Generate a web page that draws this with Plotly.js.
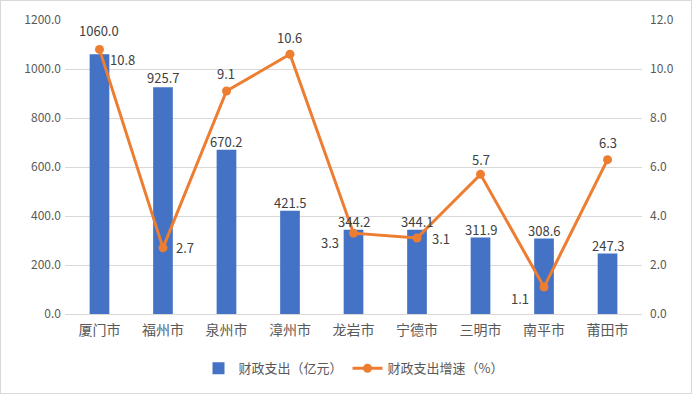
<!DOCTYPE html>
<html><head><meta charset="utf-8">
<script src="https://cdn.plot.ly/plotly-3.0.1.min.js"></script>
<style>html,body{margin:0;padding:0;background:#fff}#w{position:relative;width:692px;height:394px}#c{position:absolute;left:0;top:0;width:692px;height:394px}#b{position:absolute;left:0;top:0;width:692px;height:394px;box-sizing:border-box;border:1px solid #D9D9D9;pointer-events:none}</style>
</head><body><div id="w"><div id="c"></div><div id="b"></div></div>
<script>
const cities = ['厦门市','福州市','泉州市','漳州市','龙岩市','宁德市','三明市','南平市','莆田市'];
const spending = [1060.0, 925.7, 670.2, 421.5, 344.2, 344.1, 311.9, 308.6, 247.3];
const growth = [10.8, 2.7, 9.1, 10.6, 3.3, 3.1, 5.7, 1.1, 6.3];
const leftTicks = [0,200,400,600,800,1000,1200];
const rightTicks = [0,2,4,6,8,10,12];

const font = '"Noto Sans CJK SC", "Microsoft YaHei", sans-serif';
// label offsets in pixels (styling only)
const barLabelDy = [24, 10, 8, 8, 8, 8, 8, 8, 8];
const lineLabelDx = [23, 22, 0, 0, -24, 24, 0, -24, 0];
const lineLabelDy = [-10, 0, 18, 17, -9, 0, 15, -11, 17];

const barTrace = {
  type:'bar', x:cities, y:spending, name:'财政支出（亿元）',
  marker:{color:'#4472C4'}, width:0.31, hoverinfo:'x+y'
};
const lineTrace = {
  type:'scatter', mode:'lines+markers', x:cities, y:growth, yaxis:'y2',
  name:'财政支出增速（%）',
  line:{color:'#ED7D31', width:3}, marker:{color:'#ED7D31', size:9}, cliponaxis:false
};
const labFont = {family:font, size:13, color:'#404040'};
const annotations = cities.map((c,i)=>({
  x:c, y:spending[i], xref:'x', yref:'y', text:spending[i].toFixed(1),
  showarrow:false, yanchor:'middle', yshift:barLabelDy[i], font:labFont
})).concat(cities.map((c,i)=>({
  x:c, y:growth[i], xref:'x', yref:'y2', text:growth[i].toFixed(1),
  showarrow:false, xanchor:'center', yanchor:'middle',
  xshift:lineLabelDx[i], yshift:lineLabelDy[i], font:labFont
})));

const layout = {
  width:692, height:394,
  margin:{l:65, r:50, t:20, b:79},
  paper_bgcolor:'#fff', plot_bgcolor:'#fff',
  font:{family:font, color:'#595959', size:12},
  showlegend:true,
  legend:{orientation:'h', x:0.5, xanchor:'center', y:-0.13, yanchor:'top',
    font:{family:font, size:13, color:'#595959'}},
  xaxis:{type:'category', showgrid:false, showline:true, linecolor:'#D9D9D9', linewidth:1,
    ticks:'', ticklabelstandoff:3, tickfont:{family:font, size:14, color:'#595959'}},
  yaxis:{range:[0,1200], tickvals:leftTicks, ticktext:leftTicks.map(v=>v.toFixed(1)),
    showgrid:true, gridcolor:'#D9D9D9', zeroline:false, showline:false, ticks:'',
    ticklabelstandoff:3, tickfont:{family:font, size:12, color:'#595959'}},
  yaxis2:{range:[0,12], tickvals:rightTicks, ticktext:rightTicks.map(v=>v.toFixed(1)),
    overlaying:'y', side:'right', showgrid:false, zeroline:false, showline:false, ticks:'',
    ticklabelstandoff:7, tickfont:{family:font, size:12, color:'#595959'}},
  annotations:annotations
};
Plotly.newPlot('c',[barTrace,lineTrace],layout,{displayModeBar:false,staticPlot:true});
</script></body></html>
